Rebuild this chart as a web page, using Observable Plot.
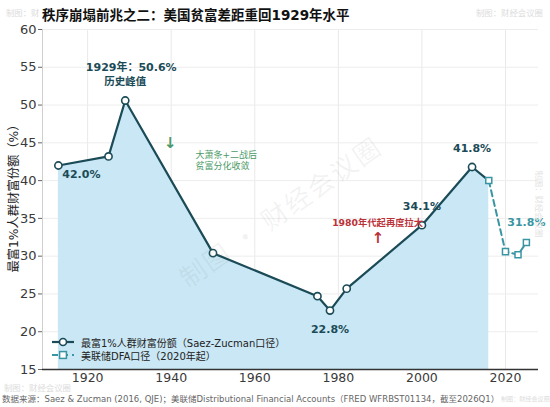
<!DOCTYPE html>
<html><head><meta charset="utf-8">
<script src="https://cdn.jsdelivr.net/npm/d3@7"></script>
<script src="https://cdn.jsdelivr.net/npm/@observablehq/plot@0.6"></script>
<style>
body{margin:0;background:#fff;font-family:"DejaVu Sans","Noto Sans CJK SC",sans-serif;}
#wrap{position:relative;width:550px;height:407px;overflow:hidden;background:#fff;}
#chart{position:absolute;left:0;top:0;}
#title{position:absolute;left:42px;top:0;line-height:30px;font-size:13.5px;font-weight:bold;color:#111;white-space:nowrap;}
#caption{position:absolute;left:2px;top:390px;line-height:18px;font-size:8.5px;color:#666;white-space:nowrap;}
.wm{position:absolute;color:#dcdcdc;font-size:8.4px;white-space:nowrap;font-family:"Noto Sans CJK SC",sans-serif;line-height:12px;}
.leg{position:absolute;left:52px;height:14px;display:flex;align-items:center;font-size:10px;color:#222;white-space:nowrap;}
.leg svg{margin-right:7px;}
</style></head>
<body><div id="wrap">
<div class="wm" style="left:6px;top:6px;width:34px;overflow:hidden;">制图：财</div>
<div class="wm" style="left:476px;top:6px;">制图：财经会议圈</div>
<div id="chart"></div>
<div id="title">秩序崩塌前兆之二：美国贫富差距重回1929年水平</div>
<div class="leg" id="leg1" style="top:335px;"></div>
<div class="leg" id="leg2" style="top:348px;"></div>
<div class="wm" style="left:160px;top:196px;font-size:26px;line-height:30px;color:rgba(120,120,120,0.09);transform:rotate(-35deg);transform-origin:center;letter-spacing:2px;">制图 · 财经会议圈</div>
<div class="wm" style="left:506px;top:198px;transform:rotate(90deg);color:#e4e4e4;">制图：财经会议圈</div>
<div class="wm" style="left:4px;top:381px;">制图：财经会议圈</div>
<div class="wm" style="left:501px;top:393px;font-size:6.1px;">制图：财经会议圈</div>
<div id="caption">数据来源：Saez &amp; Zucman (2016, QJE)；美联储Distributional Financial Accounts（FRED WFRBST01134，截至2026Q1）</div>
</div>
<script>
// Saez-Zucman top 1% wealth share
const years = [1913, 1925, 1929, 1950, 1975, 1978, 1982, 2000, 2012, 2016];
const shares = [42.0, 43.2, 50.6, 30.4, 24.7, 22.8, 25.7, 34.1, 41.8, 40.0];
// Fed DFA series
const dfaYears = [2016, 2020, 2023, 2025];
const dfaShares = [40.0, 30.6, 30.2, 31.8];
// ticks
const xTicks = [1920, 1940, 1960, 1980, 2000, 2020];
const yTicks = [15, 20, 25, 30, 35, 40, 45, 50, 55, 60];
// value labels
const labelYears = [1913, 1978, 2000, 2012];
const labelTexts = ["42.0%", "22.8%", "34.1%", "41.8%"];

const main = years.map((year, i) => ({year, share: shares[i]}));
const dfa = dfaYears.map((year, i) => ({year, share: dfaShares[i]}));
const find = y => main.find(d => d.year === y);

const dark = "#1b4b57", teal = "#3a95a3", green = "#4a9a68", red = "#bb3238";
const fontFam = '"DejaVu Sans","Noto Sans CJK SC",sans-serif';

const labelOffsets = {1913: [23, 9], 1978: [0, 19], 2000: [0, -19], 2012: [0, -19]};
const labelMarks = labelYears.map((y, i) => Plot.text([find(y)], {
  x: "year", y: "share", text: () => labelTexts[i],
  dx: labelOffsets[y][0], dy: labelOffsets[y][1],
  fontSize: 11, fontWeight: "bold", fill: dark
}));

const plot = Plot.plot({
  width: 550, height: 388,
  marginTop: 29, marginBottom: 19, marginLeft: 42, marginRight: 12,
  style: {fontFamily: fontFam, background: "transparent"},
  x: {domain: [1909.2, 2027.9]},
  y: {domain: [15, 60]},
  marks: [
    Plot.gridX(xTicks, {stroke: "#e9e9e9", strokeOpacity: 1}),
    Plot.gridY(yTicks, {stroke: "#ededed", strokeOpacity: 1}),
    Plot.areaY(main, {x: "year", y1: 15, y2: "share", fill: "#c9e7f4"}),
    Plot.ruleX([1909.2], {stroke: "#cfcfcf"}),
    Plot.ruleY([15], {stroke: "#333", strokeWidth: 1.3}),
    Plot.line(dfa, {x: "year", y: "share", stroke: teal, strokeWidth: 2, strokeDasharray: "6,4"}),
    Plot.line(main, {x: "year", y: "share", stroke: dark, strokeWidth: 2.2}),
    Plot.dot(main.filter(d => d.year !== 2016), {x: "year", y: "share", r: 3.6, fill: "white", stroke: dark, strokeWidth: 1.6}),
    Plot.dot(dfa, {x: "year", y: "share", symbol: "square", r: 3.4, fill: "white", stroke: teal, strokeWidth: 1.5}),
    Plot.axisY(yTicks, {tickSize: 4, tickPadding: 2, fontSize: 13, fill: "#3a3a3a", stroke: "#666", label: null}),
    Plot.axisX(xTicks, {tickSize: 0, tickPadding: 4, fontSize: 12.5, fill: "#3a3a3a", label: null, tickFormat: d => String(d)}),
    Plot.text(["最富1%人群财富份额（%）"], {frameAnchor: "left", textAnchor: "middle", rotate: -90, dx: -28, dy: -4, fontSize: 12.3, fill: "#222", text: d => d}),
    Plot.text([find(1929)], {x: "year", y: "share", text: () => "1929年：50.6%", dx: 6, dy: -33, fontSize: 11, fontWeight: "bold", fill: dark}),
    Plot.text([find(1929)], {x: "year", y: "share", text: () => "历史峰值", dy: -19, fontSize: 10.5, fontWeight: "bold", fill: dark}),
    ...labelMarks,
    Plot.text([dfa[dfa.length - 1]], {x: "year", y: "share", text: d => d.share.toFixed(1) + "%", dy: -20, fontSize: 11, fontWeight: "bold", fill: teal}),
    Plot.text([{year: 1939.8, share: 44.9}], {x: "year", y: "share", text: () => "↓", fontSize: 15, fontWeight: "bold", fill: green}),
    Plot.text([{year: 1945.8, share: 43.4}, {year: 1945.8, share: 41.9}], {x: "year", y: "share", text: ["大萧条+二战后", "贫富分化收敛"], textAnchor: "start", fontSize: 9, fill: green}),
    Plot.text([{year: 1989.4, share: 34.4}], {x: "year", y: "share", text: () => "1980年代起再度拉大", fontSize: 9.3, fontWeight: "bold", fill: red}),
    Plot.text([{year: 1989.5, share: 32.4}], {x: "year", y: "share", text: () => "↑", fontSize: 15, fontWeight: "bold", fill: red})
  ]
});
document.getElementById("chart").appendChild(plot);

document.getElementById("leg1").innerHTML =
  `<svg width="22" height="14"><line x1="0" x2="22" y1="7" y2="7" stroke="${dark}" stroke-width="2.2"/><circle cx="11" cy="7" r="3.5" fill="white" stroke="${dark}" stroke-width="1.6"/></svg><span>最富1%人群财富份额（Saez-Zucman口径）</span>`;
document.getElementById("leg2").innerHTML =
  `<svg width="22" height="14"><line x1="0" x2="22" y1="7" y2="7" stroke="${teal}" stroke-width="2" stroke-dasharray="6,4"/><rect x="7.6" y="3.6" width="6.8" height="6.8" fill="white" stroke="${teal}" stroke-width="1.5"/></svg><span>美联储DFA口径（2020年起）</span>`;
</script>
</body></html>
